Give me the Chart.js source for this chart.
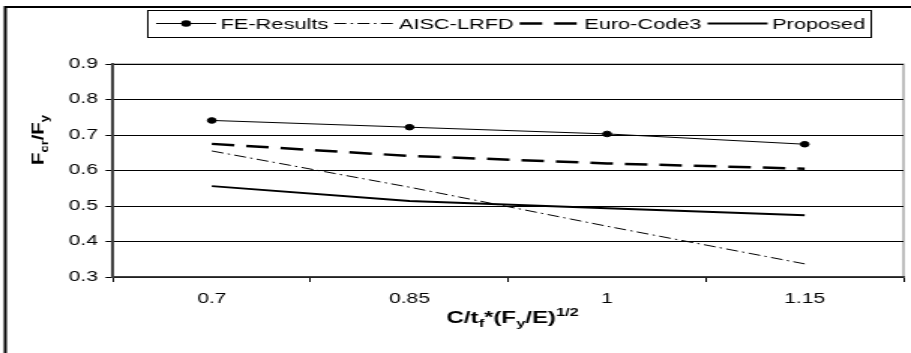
<!DOCTYPE html>
<html>
<head>
<meta charset="utf-8">
<script src="https://cdn.jsdelivr.net/npm/chart.js@4"></script>
<style>
  body { margin: 0; background: #fff; }
</style>
</head>
<body>
<canvas id="chart" width="607" height="353" style="display:block;width:911px;height:353px"></canvas>
<script>
const labels = ['0.7', '0.85', '1', '1.15'];
const feResults = [0.741, 0.722, 0.703, 0.674];
const aiscLrfd = [0.655, 0.553, 0.443, 0.337];
const euroCode3 = [0.675, 0.641, 0.620, 0.605];
const proposed = [0.556, 0.514, 0.494, 0.474];
const yTicks = [0.3, 0.4, 0.5, 0.6, 0.7, 0.8, 0.9];

const FONT = '"Liberation Sans", Arial, sans-serif';

// runs of [text, kind] where kind is 'n', 'sub' or 'sup'
function richWidth(ctx, runs, size) {
  let w = 0;
  runs.forEach(([t, k]) => {
    ctx.font = `bold ${k === 'n' ? size : Math.round(size * 0.68)}px ${FONT}`;
    w += ctx.measureText(t).width;
  });
  return w;
}

function drawRich(ctx, runs, x, y, size) {
  let cx = x - richWidth(ctx, runs, size) / 2;
  ctx.textAlign = 'left';
  ctx.textBaseline = 'alphabetic';
  runs.forEach(([t, k]) => {
    const s = k === 'n' ? size : Math.round(size * 0.68);
    ctx.font = `bold ${s}px ${FONT}`;
    const dy = k === 'sub' ? size * 0.28 : k === 'sup' ? -size * 0.42 : 0;
    ctx.fillText(t, cx, y + dy);
    cx += ctx.measureText(t).width;
  });
}

const frame = {
  id: 'frame',
  beforeDraw(chart) {
    const { ctx, chartArea: a, width, height } = chart;
    ctx.save();
    ctx.fillStyle = '#fff';
    ctx.fillRect(0, 0, width, height);
    ctx.strokeStyle = '#000';
    ctx.lineWidth = 2;
    ctx.strokeRect(3.5, 7, width + 10, height + 10);
    ctx.strokeStyle = '#808080';
    ctx.lineWidth = 1;
    ctx.strokeRect(a.left, a.top, a.right - a.left, a.bottom - a.top);
    ctx.restore();
  },
  afterDraw(chart) {
    const { ctx, chartArea: a } = chart;
    ctx.save();

    // legend
    const lineLen = 40, top = 10, bottom = 37, midY = 23.5;
    let x = 104;
    ctx.font = `14.5px ${FONT}`;
    ctx.textBaseline = 'middle';
    ctx.fillStyle = '#000';
    chart.data.datasets.forEach(ds => {
      ctx.save();
      ctx.strokeStyle = ds.borderColor;
      ctx.lineWidth = ds.borderWidth;
      ctx.setLineDash(ds.borderDash || []);
      ctx.beginPath();
      ctx.moveTo(x, midY);
      ctx.lineTo(x + lineLen, midY);
      ctx.stroke();
      ctx.restore();
      if (ds.pointRadius) {
        ctx.beginPath();
        ctx.arc(x + lineLen / 2, midY, ds.pointRadius + 0.5, 0, Math.PI * 2);
        ctx.fill();
      }
      x += lineLen + 3;
      ctx.fillText(ds.label, x, midY + 1);
      x += ctx.measureText(ds.label).width + 4;
    });
    ctx.strokeStyle = '#000';
    ctx.lineWidth = 1;
    ctx.strokeRect(98.5, top + 0.5, x - 98.5, bottom - top);

    // axis titles
    ctx.fillStyle = '#000';
    drawRich(ctx, [['C/t', 'n'], ['f', 'sub'], ['*(F', 'n'], ['y', 'sub'], ['/E)', 'n'], ['1/2', 'sup']],
      (a.left + a.right) / 2 + 3, 323, 16);

    ctx.translate(25.3, 140);
    ctx.rotate(-Math.PI / 2);
    ctx.scale(1.85, 1);
    drawRich(ctx, [['F', 'n'], ['cr', 'sub'], ['/F', 'n'], ['y', 'sub']], 0, 4, 11);
    ctx.restore();
  }
};

new Chart(document.getElementById('chart'), {
  type: 'line',
  data: {
    labels: labels,
    datasets: [
      {
        label: 'FE-Results',
        data: feResults,
        borderColor: '#000',
        borderWidth: 1,
        pointRadius: 2.8,
        pointBackgroundColor: '#000',
        pointBorderColor: '#000',
        pointBorderWidth: 1,
      },
      {
        label: 'AISC-LRFD',
        data: aiscLrfd,
        borderColor: '#000',
        borderWidth: 1,
        borderDash: [8, 3, 1.5, 3],
        pointRadius: 0,
      },
      {
        label: 'Euro-Code3',
        data: euroCode3,
        borderColor: '#000',
        borderWidth: 2.5,
        borderDash: [15, 8],
        pointRadius: 0,
      },
      {
        label: 'Proposed',
        data: proposed,
        borderColor: '#000',
        borderWidth: 2,
        pointRadius: 0,
      },
    ],
  },
  options: {
    responsive: false,
    animation: false,
    devicePixelRatio: 1,
    layout: { padding: { top: 64, right: 1, left: 0, bottom: 0 } },
    plugins: {
      legend: { display: false },
      tooltip: { enabled: false },
    },
    scales: {
      x: {
        offset: true,
        grid: { offset: true, drawOnChartArea: false, tickLength: 5, color: '#000' },
        border: { color: '#404040', width: 1.5 },
        ticks: { color: '#000', font: { family: FONT, size: 14 }, padding: 9, maxRotation: 0 },
        afterFit: s => { s.height = 76; },
      },
      y: {
        min: 0.3,
        max: 0.9,
        afterBuildTicks: s => { s.ticks = yTicks.map(v => ({ value: v })); },
        grid: { color: '#000', tickLength: 5 },
        border: { color: '#404040', width: 2 },
        ticks: {
          color: '#000',
          font: { family: FONT, size: 14 },
          padding: 5,
          callback: v => v.toFixed(1),
        },
        afterFit: s => { s.width = 75.3; },
      },
    },
  },
  plugins: [frame],
});
</script>
</body>
</html>
